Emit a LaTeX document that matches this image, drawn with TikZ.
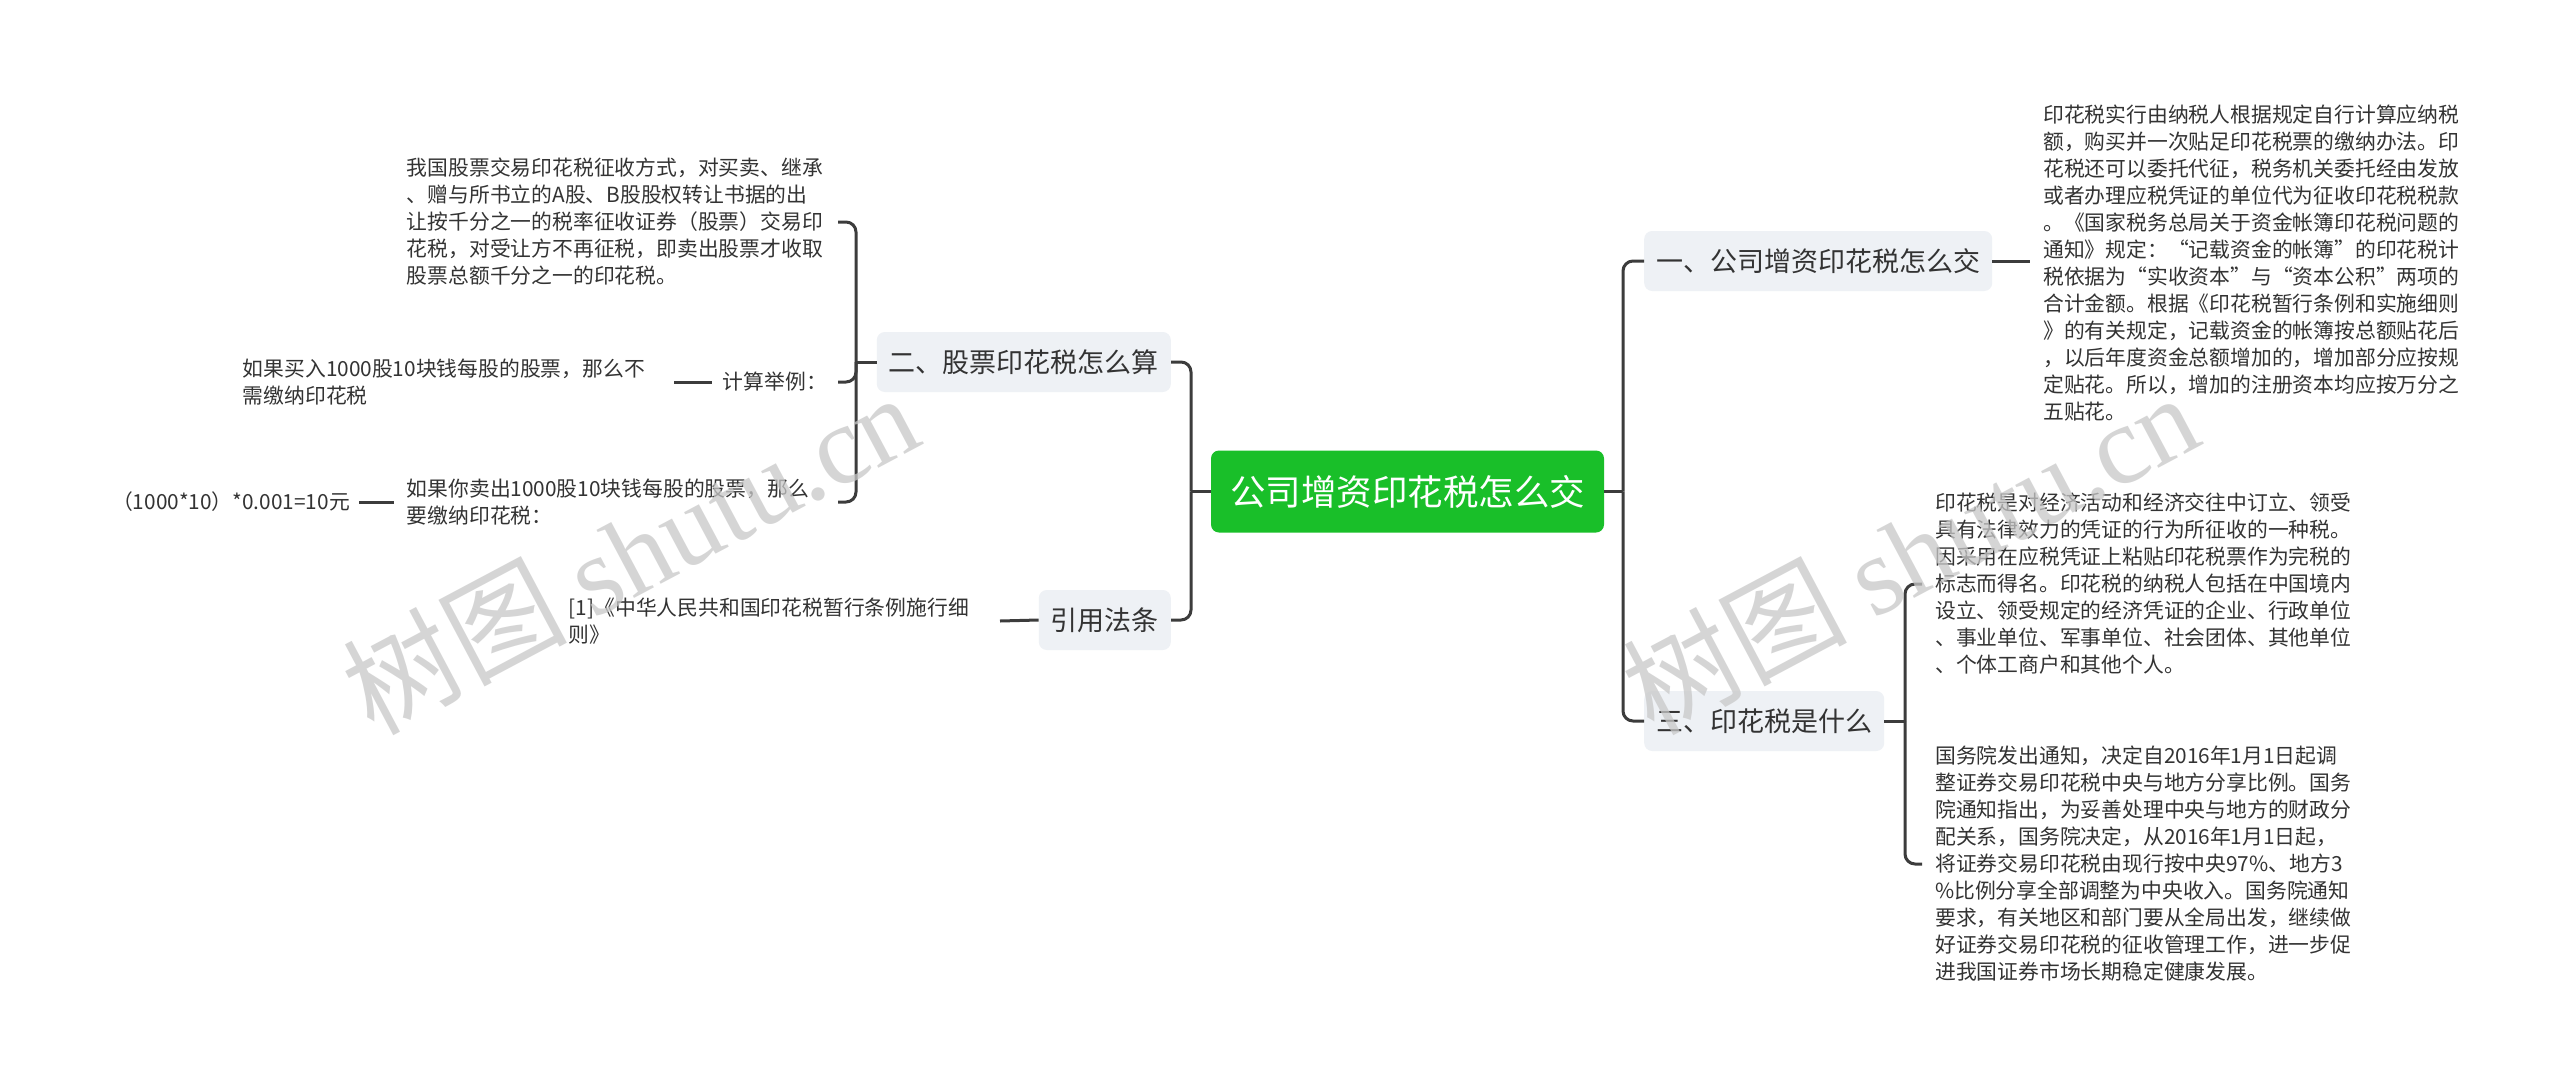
\documentclass[tikz,border=0pt]{standalone}
\usepackage{fontspec}
\setmainfont{Noto Sans CJK SC}
\newfontfamily\wmlatin{Liberation Serif}
\definecolor{linec}{HTML}{3C3C3C}
\definecolor{maingreen}{HTML}{19BF29}
\definecolor{boxfill}{HTML}{EEF1F5}
\definecolor{txt}{HTML}{333333}
\definecolor{wmc}{HTML}{C8C8C8}
\begin{document}
\begin{tikzpicture}[x=1pt,y=-1pt,
  conn/.style={line width=3pt, draw=linec, rounded corners=10pt},
  mainbox/.style={fill=maingreen, text=white, rounded corners=8pt, font=\fontsize{35.5}{42}\selectfont, minimum height=82pt, inner xsep=19pt, inner ysep=0pt},
  branch/.style={fill=boxfill, text=txt, rounded corners=8pt, font=\fontsize{27}{32}\selectfont, minimum height=60pt, inner xsep=12pt, inner ysep=0pt},
  para/.style={text=txt, font=\fontsize{20.8}{27}\selectfont, align=left, text width=418pt, inner xsep=13pt, inner ysep=0pt},
  leaf/.style={text=txt, font=\fontsize{20.8}{27}\selectfont, inner xsep=11pt, inner ysep=0pt},
  watermark/.style={text=wmc, opacity=0.75, font=\fontsize{112}{118}\selectfont, rotate=28}
]
\useasboundingbox (0,0) rectangle (2560,1084);
\fill[white] (0,0) rectangle (2560,1084);

% main and branch nodes
\node[mainbox] (c) at (1407.5,491.5) {公司增资印花税怎么交};
\node[branch, anchor=east] (b2) at (1171,362) {二、股票印花税怎么算};
\node[branch, anchor=east] (b3) at (1171,620) {引用法条};
\node[branch, anchor=west] (r1) at (1644,261) {一、公司增资印花税怎么交};
\node[branch, anchor=west] (r3) at (1644,721) {三、印花税是什么};

% right texts
\node[para, anchor=west] (t1) at (2030,263) {印花税实行由纳税人根据规定自行计算应纳税\\
额，购买并一次贴足印花税票的缴纳办法。印\\
花税还可以委托代征，税务机关委托经由发放\\
或者办理应税凭证的单位代为征收印花税税款\\
。《国家税务总局关于资金帐簿印花税问题的\\
通知》规定：“记载资金的帐簿”的印花税计\\
税依据为“实收资本”与“资本公积”两项的\\
合计金额。根据《印花税暂行条例和实施细则\\
》的有关规定，记载资金的帐簿按总额贴花后\\
，以后年度资金总额增加的，增加部分应按规\\
定贴花。所以，增加的注册资本均应按万分之\\
五贴花。};
\node[para, anchor=west] (t3a) at (1922,584) {印花税是对经济活动和经济交往中订立、领受\\
具有法律效力的凭证的行为所征收的一种税。\\
因采用在应税凭证上粘贴印花税票作为完税的\\
标志而得名。印花税的纳税人包括在中国境内\\
设立、领受规定的经济凭证的企业、行政单位\\
、事业单位、军事单位、社会团体、其他单位\\
、个体工商户和其他个人。};
\node[para, anchor=west] (t3b) at (1922,864) {国务院发出通知，决定自2016年1月1日起调\\
整证券交易印花税中央与地方分享比例。国务\\
院通知指出，为妥善处理中央与地方的财政分\\
配关系，国务院决定，从2016年1月1日起，\\
将证券交易印花税由现行按中央97\%、地方3\\
\%比例分享全部调整为中央收入。国务院通知\\
要求，有关地区和部门要从全局出发，继续做\\
好证券交易印花税的征收管理工作，进一步促\\
进我国证券市场长期稳定健康发展。};

% left texts
\node[para, anchor=east] (t2a) at (838,222) {我国股票交易印花税征收方式，对买卖、继承\\
、赠与所书立的A股、B股股权转让书据的出\\
让按千分之一的税率征收证券（股票）交易印\\
花税，对受让方不再征税，即卖出股票才收取\\
股票总额千分之一的印花税。};
\node[leaf, anchor=east] (t2b) at (838,382) {计算举例：};
\node[para, anchor=east] (t2b1) at (674,382) {如果买入1000股10块钱每股的股票，那么不\\
需缴纳印花税};
\node[para, anchor=east] (t2c) at (838,502) {如果你卖出1000股10块钱每股的股票，那么\\
要缴纳印花税：};
\node[leaf, anchor=east, inner xsep=9pt] (t2c1) at (359,502) {（1000*10）*0.001=10元};
\node[para, anchor=east] (t4) at (1000,621) {[1]《中华人民共和国印花税暂行条例施行细\\
则》};

% junctions
\coordinate (jl) at (1191,491.5);
\coordinate (jr) at (1623,491.5);
\coordinate (j2) at (856,362);
\coordinate (j3) at (1905,721);

% connectors
\draw[conn] (c.west) -- (jl);
\draw[conn] (b2.east) -| (jl);
\draw[conn] (b3.east) -| (jl);
\draw[conn] (c.east) -- (jr);
\draw[conn] (r1.west) -| (jr);
\draw[conn] (r3.west) -| (jr);
\draw[conn] (b2.west) -- (j2);
\draw[conn] (t2a.east) -| (j2);
\draw[conn] (t2b.east) -| (j2);
\draw[conn] (t2c.east) -| (j2);
\draw[conn] (t2b.west) -- (t2b1.east);
\draw[conn] (t2c.west) -- (t2c1.east);
\draw[conn] (b3.west) -- (t4.east);
\draw[conn] (r1.east) -- (r1.east -| t1.west);
\draw[conn] (r3.east) -- (j3);
\draw[conn] (t3a.west) -| (j3);
\draw[conn] (t3b.west) -| (j3);

% watermarks
\node[watermark] (wm1) at (630,552) {树图 {\wmlatin shutu.cn}};
\node[watermark] (wm2) at (1910,552) {树图 {\wmlatin shutu.cn}};
\end{tikzpicture}
\end{document}
